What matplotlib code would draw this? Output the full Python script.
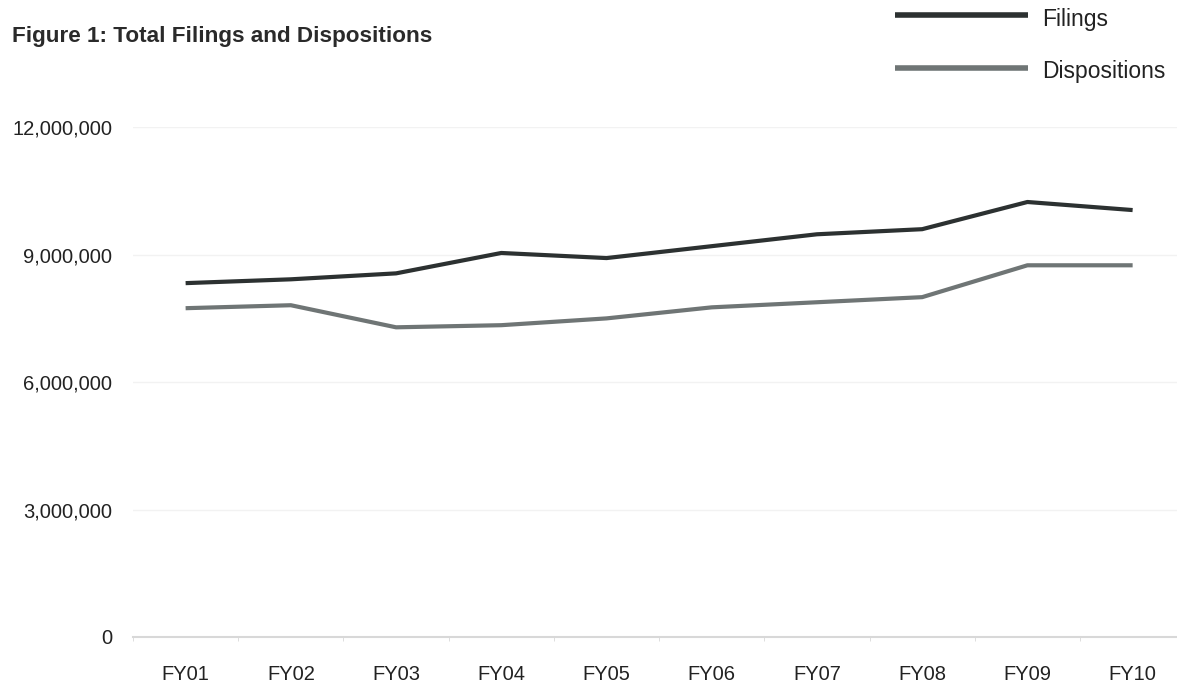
import matplotlib
matplotlib.use("Agg")
import matplotlib.pyplot as plt
from matplotlib.ticker import FuncFormatter, FixedLocator
from matplotlib.lines import Line2D

plt.rcParams['font.family'] = ['Liberation Sans', 'DejaVu Sans']

categories = ["FY01", "FY02", "FY03", "FY04", "FY05", "FY06", "FY07", "FY08", "FY09", "FY10"]
filings = [8330000, 8420000, 8560000, 9040000, 8920000, 9200000, 9480000, 9600000, 10240000, 10050000]
dispositions = [7740000, 7810000, 7290000, 7340000, 7500000, 7760000, 7880000, 8000000, 8750000, 8750000]
yticks = [0, 3000000, 6000000, 9000000, 12000000]

fig = plt.figure(figsize=(11.77, 6.87), dpi=100)
ax = fig.add_axes([0.113, 0.0728, 0.894, 0.742])

x = list(range(len(categories)))
c_fil = "#2c3131"
c_dis = "#6f7575"
ax.plot(x, filings, color=c_fil, lw=3.0, solid_capstyle='butt')
ax.plot(x, dispositions, color=c_dis, lw=3.0, solid_capstyle='butt')

ax.set_xlim(-0.5, len(categories) - 0.5)
ax.set_ylim(0, 12000000)
ax.set_xticks(x)
ax.set_xticklabels(categories, fontsize=14.5, color="#222222")
ax.xaxis.set_minor_locator(FixedLocator([i + 0.5 for i in range(-1, len(categories))]))
ax.tick_params(axis='x', which='major', length=0, pad=20)
ax.tick_params(axis='x', which='minor', length=3, color="#d8d8d8")
ax.set_yticks(yticks)
ax.yaxis.set_major_formatter(FuncFormatter(lambda v, p: f"{int(v):,}"))
ax.tick_params(axis='y', length=0, pad=15, labelsize=14.5, labelcolor="#222222")
ax.grid(axis='y', color="#f2f2f2", lw=1)
for s in ["top", "right", "left"]:
    ax.spines[s].set_visible(False)
ax.spines["bottom"].set_color("#d8d8d8")
ax.spines["bottom"].set_linewidth(1.5)
ax.set_axisbelow(True)

fig.text(0.010, 0.947, "Figure 1: Total Filings and Dispositions", fontsize=16.2,
         fontweight='bold', color="#2a2a2a", va='center', ha='left')

# legend
for yy, ty, col, lab in [(0.978, 0.972, c_fil, "Filings"), (0.901, 0.896, c_dis, "Dispositions")]:
    fig.add_artist(Line2D([895 / 1177, 1028 / 1177], [yy, yy], color=col, lw=4,
                          transform=fig.transFigure, solid_capstyle='butt'))
    fig.text(1042 / 1177, ty, lab, fontsize=16.5, color="#222222", va='center', ha='left')

fig.savefig("out.png", dpi=100, facecolor="white")
